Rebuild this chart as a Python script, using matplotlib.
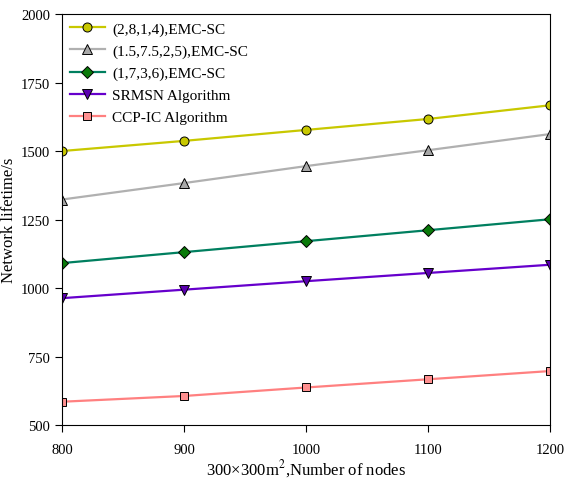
import numpy as np
import matplotlib
matplotlib.use("Agg")
import matplotlib.pyplot as plt

plt.rcParams["font.family"] = ["Liberation Serif", "DejaVu Serif"]
plt.rcParams["mathtext.fontset"] = "stix"

nodes = [800, 900, 1000, 1100, 1200]

emc_2814 = [1500, 1537, 1577, 1617, 1667]
emc_15752 = [1323, 1383, 1445, 1503, 1562]
emc_1736 = [1091, 1131, 1171, 1211, 1251]
srmsn = [963, 994, 1025, 1055, 1085]
ccp_ic = [585, 606, 637, 667, 697]

labels = ["(2,8,1,4),EMC-SC", "(1.5,7.5,2,5),EMC-SC", "(1,7,3,6),EMC-SC",
          "SRMSN Algorithm", "CCP-IC Algorithm"]

fig = plt.figure(figsize=(5.66, 4.85), dpi=100)
ax = fig.add_axes([0.1095, 0.1216, 0.8625, 0.8474])

ax.plot(nodes, emc_2814, color="#c8c800", marker="o", mfc="#c8c800", mec="black",
        mew=0.7, ms=6.5, lw=1.6, label=labels[0])
ax.plot(nodes, emc_15752, color="#b0b0b0", marker="^", mfc="#a8a8a8", mec="black",
        mew=0.7, ms=6.5, lw=1.6, label=labels[1])
ax.plot(nodes, emc_1736, color="#007f5f", marker="D", mfc="#0a7a0a", mec="black",
        mew=0.7, ms=6, lw=1.6, label=labels[2])
ax.plot(nodes, srmsn, color="#6600cc", marker="v", mfc="#5a00b0", mec="black",
        mew=0.7, ms=6.5, lw=1.6, label=labels[3])
ax.plot(nodes, ccp_ic, color="#ff8080", marker="s", mfc="#ff9090", mec="black",
        mew=0.7, ms=6, lw=1.6, label=labels[4])

ax.set_xlim(800, 1200)
ax.set_ylim(500, 2000)
ax.set_xticks([800, 900, 1000, 1100, 1200])
ax.set_yticks([500, 750, 1000, 1250, 1500, 1750, 2000])
ax.tick_params(direction="out", length=5, labelsize=10.5, top=False, right=False)
ax.tick_params(axis="x", pad=8)

ax.set_xlabel("300×300m$^2$,Number of nodes", fontsize=12)
ax.set_ylabel("Network lifetime/s", fontsize=12)
ax.xaxis.set_label_coords(0.5, -0.078)
ax.yaxis.set_label_coords(-0.092, 0.5)

ax.legend(loc="upper left", frameon=False, fontsize=11, handlelength=2.3,
          borderaxespad=0.1, labelspacing=0.55, handletextpad=0.5)

fig.savefig("out.png", dpi=100)
